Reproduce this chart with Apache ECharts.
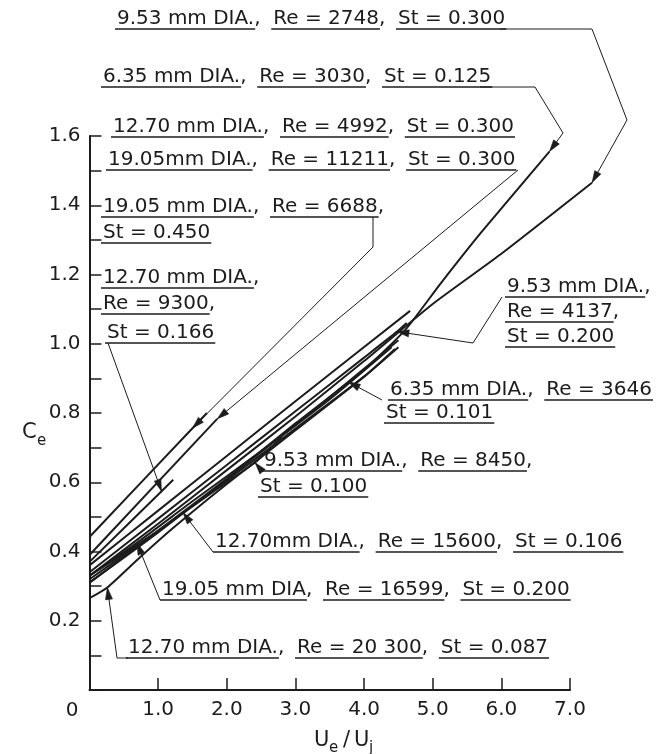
<!DOCTYPE html>
<html><head><meta charset="utf-8">
<script src="https://cdn.jsdelivr.net/npm/echarts@6/dist/echarts.min.js"></script>
<style>html,body{margin:0;padding:0;background:#fff}#c{width:666px;height:754px}</style>
</head><body><div id="c"></div>
<script>
// ---------- DATA (Ue/Uj, Ce) ----------
const xTickValues = [0, 1, 2, 3, 4, 5, 6, 7];
const xTickLabels = ['', '1.0', '2.0', '3.0', '4.0', '5.0', '6.0', '7.0'];
const yTickValues = [0, 0.2, 0.4, 0.6, 0.8, 1.0, 1.2, 1.4, 1.6];
const yTickLabels = ['', '0.2', '0.4', '0.6', '0.8', '1.0', '1.2', '1.4', '1.6'];

const s953_2748  = [[0,0.33],[1,0.48],[2,0.635],[3,0.79],[4,0.95],[5,1.115],[6,1.26],[7.32,1.465]];
const s635_3030  = [[0,0.31],[1,0.455],[2,0.61],[3,0.77],[4,0.925],[4.6,1.04],[5.1,1.17],[5.7,1.32],[6.7,1.555]];
const s1270_4992 = [[0,0.36],[1,0.518],[2,0.676],[3,0.834],[4.67,1.095]];
const s1905_11211= [[0,0.39],[1.86,0.783]];
const s1905_6688 = [[0,0.442],[1.5,0.756],[1.71,0.80]];
const s1270_9300 = [[0,0.37],[1.05,0.574],[1.22,0.607]];
const s953_4137  = [[0,0.34],[1,0.495],[2,0.65],[3,0.805],[4,0.96],[4.48,1.035],[4.62,1.06]];
const s635_3646  = [[0,0.31],[1,0.46],[2,0.61],[3,0.765],[3.77,0.89],[4.5,1.01]];
const s953_8450  = [[0,0.32],[1,0.46],[2,0.6],[2.41,0.657],[2.8,0.73]];
const s1270_15600= [[0,0.33],[1,0.46],[1.36,0.513],[2,0.605],[3,0.755],[4,0.905],[4.45,0.985]];
const s1905_16599= [[0,0.33],[0.69,0.425],[1.5,0.545],[2.5,0.69],[3.5,0.84],[4.4,0.99]];
const s1270_20300= [[0,0.265],[0.26,0.296],[0.74,0.384],[1.2,0.465],[2,0.595],[3,0.75],[4,0.905],[4.5,0.99]];

// ---------- LAYOUT ----------
const INK = '#1c1c1c';
const FF = '"DejaVu Sans", sans-serif';
const FS = 20;
const GL = 89.5, GR = 96, GT = 136, GB = 64, W = 666;
const unitPx = (W - GL - GR) / 7;
const XMAX2 = 7.5;

const allSeries = [s953_2748, s635_3030, s1270_4992, s1905_11211, s1905_6688, s1270_9300,
  s953_4137, s635_3646, s953_8450, s1270_15600, s1905_16599, s1270_20300];

const notes = [
  {lines:[[117,29,['9.53 mm DIA.','Re = 2748','St = 0.300'],false]], leader:[[500,29],[592,29],[627,120]], target:[s953_2748,7]},
  {lines:[[103,87,['6.35 mm DIA.','Re = 3030','St = 0.125'],false]], leader:[[480,87],[535,87],[563,133]], target:[s635_3030,8]},
  {lines:[[113,137,['12.70 mm DIA.','Re = 4992','St = 0.300'],false]]},
  {lines:[[108,170,['19.05mm DIA.','Re = 11211','St = 0.300'],false]], leader:[[518,170]], target:[s1905_11211,1]},
  {lines:[[103,217,['19.05 mm DIA.','Re = 6688'],true],[103,243,['St = 0.450'],false]], leader:[[373,217],[373,247]], target:[s1905_6688,1]},
  {lines:[[103,288,['12.70 mm DIA.'],true],[103,314,['Re = 9300'],true],[107,343,['St = 0.166'],false]], leader:[[108,343]], target:[s1270_9300,1]},
  {lines:[[507,297,['9.53 mm DIA.'],true],[507,322,['Re = 4137'],true],[507,347,['St = 0.200'],false]], leader:[[502,297],[473,343]], target:[s953_4137,5]},
  {lines:[[390,400,['6.35 mm DIA.','Re = 3646'],false],[386,423,['St = 0.101'],false]], leader:[[382,400]], target:[s635_3646,4]},
  {lines:[[264,471,['9.53 mm DIA.','Re = 8450'],true],[260,497,['St = 0.100'],false]], leader:[[262,471]], target:[s953_8450,3]},
  {lines:[[215,552,['12.70mm DIA.','Re = 15600','St = 0.106'],false]], leader:[[213,552]], target:[s1270_15600,2]},
  {lines:[[162,600,['19.05 mm DIA','Re = 16599','St = 0.200'],false]], leader:[[160,600]], target:[s1905_16599,1]},
  {lines:[[128,658,['12.70 mm DIA.','Re = 20 300','St = 0.087'],false]], leader:[[128,658],[117,658]], target:[s1270_20300,1]}
];

const chart = echarts.init(document.getElementById('c'), null, {renderer:'canvas'});
chart.setOption({
  animation:false,
  backgroundColor:'#ffffff',
  grid:[
    {left:GL, right:GR, top:GT, bottom:GB},
    {left:GL, right:W - GL - unitPx*XMAX2, top:GT, bottom:GB}
  ],
  xAxis:[
    {type:'value', gridIndex:0, min:0, max:7, interval:1,
      axisLine:{lineStyle:{color:INK, width:2}},
      axisTick:{inside:true, length:12, lineStyle:{color:INK, width:1.5}},
      axisLabel:{color:INK, fontFamily:FF, fontSize:FS, margin:10,
        formatter:v=>{const i=xTickValues.indexOf(Math.round(v*10)/10);return i>=0?xTickLabels[i]:'';}},
      splitLine:{show:false}},
    {type:'value', gridIndex:1, min:0, max:XMAX2, show:false, splitLine:{show:false}}
  ],
  yAxis:[
    {type:'value', gridIndex:0, min:0, max:1.6, interval:0.2,
      axisLine:{show:true, lineStyle:{color:INK, width:2}},
      axisTick:{show:true, inside:true, length:12, lineStyle:{color:INK, width:1.5}},
      minorTick:{show:true, splitNumber:2, length:12, lineStyle:{color:INK, width:1.5}},
      axisLabel:{color:INK, fontFamily:FF, fontSize:FS, margin:9,
        formatter:v=>{const i=yTickValues.findIndex(t=>Math.abs(t-v)<1e-6);return i>=0?yTickLabels[i]:'';}},
      splitLine:{show:false}, minorSplitLine:{show:false}},
    {type:'value', gridIndex:1, min:0, max:1.6, show:false, splitLine:{show:false}}
  ],
  series: allSeries.map(d=>({type:'line', xAxisIndex:1, yAxisIndex:1, data:d, symbol:'none', showSymbol:false,
    smooth:0.2, silent:true, lineStyle:{color:INK, width:2}}))
});

// ---------- ANNOTATIONS ----------
const cv = document.createElement('canvas').getContext('2d');
function tw(s){ cv.font = FS + 'px ' + FF; return cv.measureText(s).width; }
const g = [];
function txt(x, y, s, size, align){
  g.push({type:'text', x:x, y:y, silent:true,
    style:{text:s, fill:INK, font:(size||FS)+'px '+FF, fontSize:size||FS, fontFamily:FF,
      align:align||'left', verticalAlign:'middle', textAlign:align||'left', textVerticalAlign:'middle'}});
}
function seg(pts, w){
  g.push({type:'polyline', silent:true, shape:{points:pts}, style:{stroke:INK, lineWidth:w||1, fill:null}});
}
function arrow(from, tip){
  const dx = tip[0]-from[0], dy = tip[1]-from[1], L = Math.hypot(dx,dy);
  const ux = dx/L, uy = dy/L, len = 12, hw = 3.6;
  const bx = tip[0]-ux*len, by = tip[1]-uy*len;
  g.push({type:'polygon', silent:true, shape:{points:[tip,[bx-uy*hw, by+ux*hw],[bx+uy*hw, by-ux*hw]]},
    style:{fill:INK, stroke:INK, lineWidth:0.5}});
}
notes.forEach(n=>{
  n.lines.forEach(([x, uyy, parts, trail])=>{
    let cx = x;
    parts.forEach((p,i)=>{
      const w = tw(p);
      txt(cx, uyy-10, p);
      seg([[cx-2, uyy],[cx+w+1, uyy]], 1.4);
      cx += w;
      if (i < parts.length-1) { txt(cx, uyy-10, ','); cx += tw(',  '); }
      else if (trail) { txt(cx, uyy-10, ','); }
    });
  });
  if (n.leader){
    const tip = chart.convertToPixel({xAxisIndex:1, yAxisIndex:1}, n.target[0][n.target[1]]);
    const pts = n.leader.concat([tip]);
    seg(pts, 1);
    arrow(pts[pts.length-2], tip);
  }
});
// origin label, axis names
txt(72, 711, '0', FS, 'center');
txt(22, 433, 'C', 21);
txt(37, 441, 'e', 15);
txt(314, 741, 'U', 21);
txt(329, 748, 'e', 15);
txt(343, 741, '/', 21);
txt(354, 741, 'U', 21);
txt(369, 748, 'j', 15);
chart.setOption({graphic:{elements:g}});
</script></body></html>
